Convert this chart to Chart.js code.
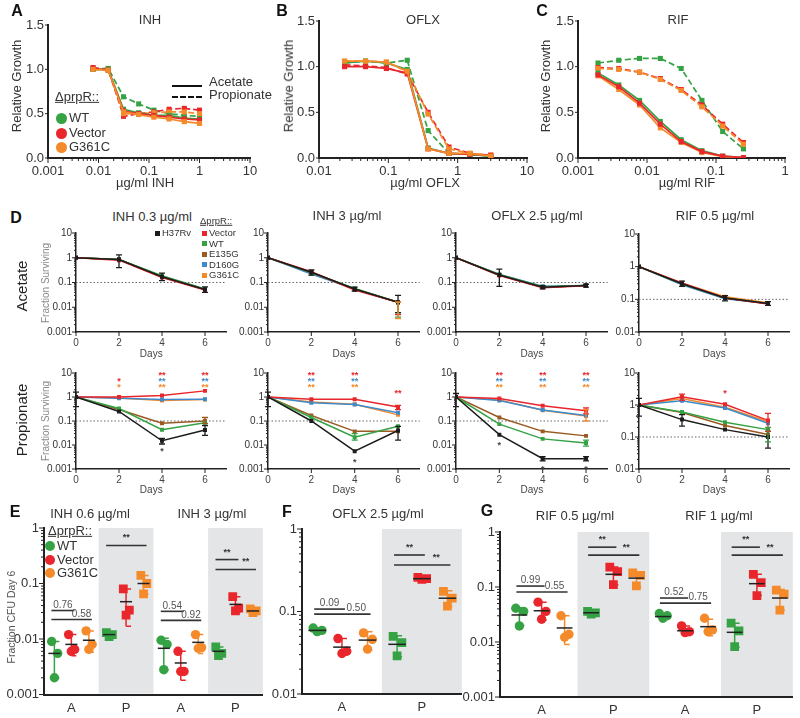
<!DOCTYPE html>
<html><head><meta charset="utf-8">
<script src="https://cdn.jsdelivr.net/npm/chart.js@4.4.1/dist/chart.umd.min.js"></script>
<style>
html,body{margin:0;padding:0;background:#fff}
body{width:800px;height:718px;position:relative;overflow:hidden;font-family:"Liberation Sans",Arial,sans-serif;color:#333}
canvas{position:absolute}
.t{position:absolute;white-space:nowrap;line-height:1.1}
.sw{position:absolute}
</style></head><body>
<script>
// ================= DATA =================
// Panels A-C : relative growth vs dose (Acetate = solid, Propionate = dashed)
const inhDoses  = [0.0078, 0.0156, 0.0313, 0.0625, 0.125, 0.25, 0.5, 1];
const oflxDoses = [0.0234, 0.0469, 0.0938, 0.1875, 0.375, 0.75, 1.5, 3];
const rifDoses  = [0.00195, 0.0039, 0.0078, 0.0156, 0.0313, 0.0625, 0.125, 0.25];

const inhAceWT     = [1.00, 1.00, 0.55, 0.51, 0.48, 0.48, 0.45, 0.44];
const inhAceVector = [1.01, 0.99, 0.53, 0.50, 0.48, 0.46, 0.44, 0.43];
const inhAceG361C  = [1.00, 0.99, 0.52, 0.49, 0.46, 0.44, 0.41, 0.39];
const inhProWT     = [1.00, 1.01, 0.69, 0.61, 0.54, 0.50, 0.48, 0.47];
const inhProVector = [1.02, 1.00, 0.47, 0.50, 0.52, 0.55, 0.56, 0.54];
const inhProG361C  = [1.00, 0.99, 0.50, 0.50, 0.51, 0.52, 0.52, 0.50];

const oflxAceWT     = [1.04, 1.06, 1.04, 0.97, 0.11, 0.05, 0.04, 0.02];
const oflxAceVector = [1.00, 1.00, 0.98, 0.93, 0.10, 0.05, 0.04, 0.03];
const oflxAceG361C  = [1.06, 1.06, 1.05, 0.95, 0.10, 0.05, 0.05, 0.02];
const oflxProWT     = [1.04, 1.06, 1.04, 1.07, 0.30, 0.05, 0.04, 0.02];
const oflxProVector = [1.02, 1.01, 0.99, 0.92, 0.50, 0.12, 0.05, 0.03];
const oflxProG361C  = [1.06, 1.06, 1.05, 0.95, 0.48, 0.10, 0.05, 0.03];

const rifAceWT     = [0.93, 0.80, 0.63, 0.40, 0.20, 0.08, 0.02, 0.005];
const rifAceVector = [0.91, 0.78, 0.60, 0.37, 0.18, 0.07, 0.02, 0.004];
const rifAceG361C  = [0.90, 0.75, 0.58, 0.33, 0.17, 0.06, 0.015, 0.003];
const rifProWT     = [1.04, 1.07, 1.09, 1.09, 0.98, 0.63, 0.29, 0.10];
const rifProVector = [0.99, 0.98, 0.94, 0.87, 0.75, 0.58, 0.37, 0.17];
const rifProG361C  = [0.98, 0.97, 0.94, 0.86, 0.74, 0.56, 0.35, 0.15];

// Panel D : fraction surviving over days; rows = strains in dStrains order
const days = [0, 2, 4, 6];
const dStrains = ['H37Rv', 'Vector', 'WT', 'E135G', 'D160G', 'G361C'];

const inh03Acetate = [[1,0.85,0.17,0.052],[1,0.80,0.16,0.050],[1,0.86,0.19,0.055],[1,0.85,0.17,0.052],[1,0.85,0.17,0.052],[1,0.85,0.17,0.052]];
const inh3Acetate  = [[1,0.26,0.055,0.016],[1,0.27,0.050,0.016],[1,0.25,0.057,0.016],[1,0.25,0.055,0.016],[1,0.22,0.055,0.016],[1,0.26,0.055,0.016]];
const oflxAcetate  = [[1,0.20,0.065,0.075],[1,0.19,0.062,0.074],[1,0.21,0.068,0.075],[1,0.20,0.065,0.075],[1,0.21,0.070,0.076],[1,0.20,0.065,0.075]];
const rifAcetate   = [[1,0.30,0.11,0.075],[1,0.32,0.11,0.072],[1,0.30,0.11,0.075],[1,0.30,0.11,0.075],[1,0.28,0.105,0.075],[1,0.31,0.12,0.078]];

const inh03Propionate = [[1,0.25,0.015,0.042],[1,1.0,1.15,1.8],[1,0.33,0.043,0.085],[1,0.30,0.080,0.10],[1,0.88,0.78,0.80],[1,0.90,0.72,0.78]];
const inh3Propionate  = [[1,0.10,0.0055,0.040],[1,0.80,0.80,0.38],[1,0.14,0.021,0.060],[1,0.17,0.037,0.037],[1,0.57,0.49,0.22],[1,0.62,0.50,0.18]];
const oflxPropionate  = [[1,0.027,0.0027,0.0027],[1,0.87,0.43,0.27],[1,0.074,0.018,0.012],[1,0.14,0.037,0.024],[1,0.72,0.29,0.17],[1,0.75,0.28,0.16]];
const rifPropionate   = [[1,0.35,0.17,0.10],[1,1.8,1.05,0.33],[1,0.60,0.29,0.17],[1,0.58,0.23,0.12],[1,1.35,0.80,0.27],[1,1.6,0.85,0.30]];

// error bars: [strain index, day, low, high]
const inh03AcetateErr = [[0,2,0.4,1.3],[0,4,0.12,0.24],[0,6,0.04,0.066]];
const inh3AcetateErr  = [[0,2,0.2,0.32],[0,4,0.045,0.065],[0,6,0.006,0.03],[1,6,0.005,0.016],[2,6,0.004,0.016],[5,6,0.0035,0.016]];
const oflxAcetateErr  = [[0,2,0.07,0.35],[0,4,0.055,0.075],[0,6,0.065,0.085]];
const rifAcetateErr   = [[0,2,0.25,0.36],[0,4,0.09,0.13],[0,6,0.065,0.085]];
const inh03PropionateErr = [[0,0,0.4,1.6],[0,4,0.011,0.019],[0,6,0.025,0.065],[3,6,0.08,0.14]];
const inh3PropionateErr  = [[0,0,0.4,1.6],[0,6,0.016,0.06],[2,4,0.016,0.03],[1,6,0.3,0.45]];
const oflxPropionateErr  = [[0,0,0.4,1.4],[0,4,0.0022,0.0033],[0,6,0.0022,0.0033],[1,6,0.2,0.35],[5,6,0.1,0.3],[2,6,0.009,0.016]];
const rifPropionateErr   = [[0,0,0.45,1.6],[0,2,0.22,0.5],[0,6,0.045,0.15],[1,6,0.15,0.55],[1,2,1.4,2.2],[2,6,0.07,0.2]];

// significance stars: [day, row, strain index, text]; H37Rv stars shown below point (days)
const inh03Stars = [[2,1,1,'*'],[2,2,5,'*'],[4,0,1,'**'],[4,1,4,'**'],[4,2,5,'**'],[6,0,1,'**'],[6,1,4,'**'],[6,2,5,'**']];
const inh3Stars  = [[2,0,1,'**'],[2,1,4,'**'],[2,2,5,'**'],[4,0,1,'**'],[4,1,4,'**'],[4,2,5,'**'],[6,3,1,'**']];
const oflxStars  = [[2,0,1,'**'],[2,1,4,'**'],[2,2,5,'**'],[4,0,1,'**'],[4,1,4,'**'],[4,2,5,'**'],[6,0,1,'**'],[6,1,4,'**'],[6,2,5,'**']];
const rifStars   = [[4,3,1,'*']];
const inh03BlackStar = [4];
const inh3BlackStar  = [4];
const oflxBlackStar  = [2, 4, 6];
const rifBlackStar   = [];

// Panels E-G : fraction CFU day 6 (per strain: WT, Vector, G361C; per group)
const eGroups = ['A', 'P', 'A', 'P'];
const eWT     = [[0.009,0.0055,0.002],[0.013,0.012,0.011],[0.0095,0.008,0.0028],[0.0072,0.0055,0.005]];
const eVector = [[0.012,0.0065,0.006],[0.08,0.033,0.027],[0.006,0.0026,0.0026],[0.058,0.036,0.032]];
const eG361C  = [[0.014,0.008,0.0065],[0.14,0.10,0.065],[0.012,0.007,0.0068],[0.035,0.032,0.030]];
const eMeans  = [[0.0055,0.012,0.0068,0.006],[0.008,0.047,0.0037,0.042],[0.0095,0.10,0.0087,0.032]];
const eSD     = [[[0.002,0.009],[0.011,0.013],[0.0028,0.0103],[0.005,0.0072]],
                 [[0.005,0.012],[0.017,0.08],[0.0018,0.006],[0.03,0.058]],
                 [[0.0058,0.014],[0.065,0.14],[0.0055,0.012],[0.029,0.035]]];
const eBrackets = [[0,0,1,0.0326,'0.76',0],[0,0,2,0.0225,'0.58',1],[1,0,2,0.484,'**',0],
                   [2,0,1,0.0315,'0.54',0],[2,0,2,0.0217,'0.92',1],[3,0,1,0.27,'**',0],[3,0,2,0.179,'**',1]];

const fGroups = ['A', 'P'];
const fWT     = [[0.063,0.059,0.057],[0.050,0.042,0.029]];
const fVector = [[0.047,0.033,0.031],[0.26,0.25,0.245]];
const fG361C  = [[0.055,0.046,0.035],[0.175,0.145,0.116]];
const fMeans  = [[0.059,0.040],[0.037,0.25],[0.045,0.145]];
const fSD     = [[[0.057,0.062],[0.028,0.051]],[[0.030,0.047],[0.243,0.258]],[[0.034,0.057],[0.115,0.178]]];
const fBrackets = [[0,0,1,0.107,'0.09',0],[0,0,2,0.093,'0.50',1],[1,0,1,0.484,'**',0],[1,0,2,0.366,'**',1]];

const gGroups = ['A', 'P', 'A', 'P'];
const gWT     = [[0.041,0.036,0.0196],[0.036,0.034,0.032],[0.033,0.030,0.027],[0.022,0.016,0.0082]];
const gVector = [[0.053,0.036,0.026],[0.23,0.19,0.11],[0.0196,0.0154,0.0148],[0.17,0.12,0.07]];
const gG361C  = [[0.030,0.0138,0.0122],[0.18,0.163,0.105],[0.027,0.0166,0.0154],[0.088,0.074,0.038]];
const gMeans  = [[0.031,0.034,0.029,0.015],[0.037,0.17,0.016,0.115],[0.018,0.145,0.019,0.063]];
const gSD     = [[[0.020,0.042],[0.032,0.036],[0.026,0.032],[0.008,0.022]],
                 [[0.025,0.053],[0.11,0.23],[0.0145,0.0195],[0.07,0.17]],
                 [[0.009,0.030],[0.10,0.18],[0.013,0.026],[0.038,0.09]]];
const gBrackets = [[0,0,1,0.104,'0.99',0],[0,0,2,0.081,'0.55',1],[1,0,1,0.53,'**',0],[1,0,2,0.38,'**',1],
                   [2,0,1,0.063,'0.52',0],[2,0,2,0.051,'0.75',1],[3,0,1,0.53,'**',0],[3,0,2,0.38,'**',1]];

// ================= STYLE =================
const GREEN='#35a244', RED='#e8262b', ORANGE='#f58a2b', BLUE='#3e8bcb', BROWN='#9a5a22', BLACK='#1c1c1c';
const dColors = [BLACK, RED, GREEN, BROWN, BLUE, ORANGE];
const strainColors = [GREEN, RED, ORANGE];
const FONT = '"Liberation Sans", Arial, sans-serif';
Chart.defaults.font.family = FONT;
Chart.defaults.color = '#333';

function isPow10(v){ const l = Math.log10(v); return Math.abs(l - Math.round(l)) < 1e-6; }
function fmtPow(v){ const e = Math.round(Math.log10(v)); return e >= 0 ? String(Math.pow(10, e)) : Math.pow(10, e).toFixed(-e); }
function logTickValues(min, max){
  const out = [];
  for (let e = Math.round(Math.log10(min)); e < Math.round(Math.log10(max)); e++)
    for (let k = 1; k < 10; k++) out.push(+(k * Math.pow(10, e)).toPrecision(6));
  out.push(max); return out;
}
const hidGrid = len => ({display:true, drawOnChartArea:false, drawTicks:true, tickLength:len, color:'rgba(0,0,0,0)'});
function logAxis(min, max, size, tl, pad, bw){
  return { type:'logarithmic', min, max, grid:hidGrid(tl), border:{display:true, color:'#222', width:bw},
    afterBuildTicks: s => { s.ticks = logTickValues(min, max).map(v => ({value:v, major:isPow10(v)})); },
    ticks:{ autoSkip:false, maxRotation:0, padding:pad, font:{size}, color:'#333', callback: v => isPow10(v) ? fmtPow(v) : '' } };
}
function tickPlugin(spec){
  return { id:'tk', afterDraw(chart){
    const ctx = chart.ctx;
    for (const ax of ['x','y']) {
      const sp = spec[ax]; if (!sp) continue;
      const s = chart.scales[ax];
      ctx.save(); ctx.strokeStyle = '#222'; ctx.lineWidth = sp.w || 1;
      for (const t of s.ticks) {
        const major = s.type === 'logarithmic' ? isPow10(t.value) : true;
        const len = major ? sp.major : sp.minor; if (!len) continue;
        const p = s.getPixelForValue(t.value);
        ctx.beginPath();
        if (ax === 'x') { ctx.moveTo(p, s.top); ctx.lineTo(p, s.top + len); }
        else { ctx.moveTo(s.right, p); ctx.lineTo(s.right - len, p); }
        ctx.stroke();
      }
      ctx.restore();
    }
  }};
}
function makeChart(plot, m, config){
  const cv = document.createElement('canvas');
  const W = Math.round(plot.r - plot.l + m.l + m.r), H = Math.round(plot.b - plot.t + m.t + m.b);
  cv.width = W; cv.height = H;
  Object.assign(cv.style, {left:(plot.l - m.l) + 'px', top:(plot.t - m.t) + 'px', width:W + 'px', height:H + 'px'});
  document.body.appendChild(cv);
  const o = config.options;
  o.responsive = false; o.animation = false; o.events = [];
  o.layout = {padding:{left:0, top:m.t, right:W - m.l - (plot.r - plot.l), bottom:0}};
  o.plugins = Object.assign({legend:{display:false}, tooltip:{enabled:false}}, o.plugins || {});
  const z = s => { s.paddingLeft = 0; s.paddingRight = 0; s.paddingTop = 0; s.paddingBottom = 0; };
  o.scales.x.afterFit = s => { s.height = H - m.t - (plot.b - plot.t); z(s); };
  o.scales.y.afterFit = s => { s.width = m.l; z(s); };
  return new Chart(cv.getContext('2d'), config);
}
function T(s, x, y, o = {}){
  const d = document.createElement('div'); d.className = 't'; d.textContent = s;
  d.style.left = x + 'px'; d.style.top = y + 'px'; d.style.fontSize = (o.size || 13) + 'px';
  if (o.bold) d.style.fontWeight = 'bold';
  if (o.color) d.style.color = o.color;
  if (o.ul) d.style.textDecoration = 'underline';
  const tx = o.align === 'left' ? '0' : o.align === 'right' ? '-100%' : '-50%';
  d.style.transform = `translate(${tx},-50%)` + (o.rot ? ' rotate(-90deg)' : '');
  document.body.appendChild(d);
}
function SW(x, y, size, color, round){
  const d = document.createElement('div'); d.className = 'sw';
  Object.assign(d.style, {left:(x - size/2) + 'px', top:(y - size/2) + 'px', width:size + 'px', height:size + 'px', background:color, borderRadius: round ? '50%' : '0'});
  document.body.appendChild(d);
}
function LN(x1, x2, y, dashed){
  const d = document.createElement('div'); d.className = 'sw';
  Object.assign(d.style, {left:x1 + 'px', top:(y - 1) + 'px', width:(x2 - x1) + 'px', height:'0', borderTop:'2px ' + (dashed ? 'dashed' : 'solid') + ' #111'});
  document.body.appendChild(d);
}

// ================= PANELS A-C =================
function doseChart(plot, xmin, xmax, doses, sets){
  const datasets = sets.map(([vals, color, dashed]) => ({
    data: doses.map((d, i) => ({x:d, y:vals[i]})),
    borderColor:color, backgroundColor:color, borderWidth:1.7, borderDash: dashed ? [6,3] : [],
    pointStyle:'rect', pointRadius:3.6, pointBorderWidth:0, fill:false
  }));
  return makeChart(plot, {l:46, t:10, r:18, b:20}, {
    type:'line', data:{datasets},
    options:{ scales:{
      x: logAxis(xmin, xmax, 13, 5, 1, 2),
      y: { type:'linear', min:0, max:1.5, grid:hidGrid(3), border:{display:true, color:'#222', width:2},
           afterBuildTicks: s => { s.ticks = [0, 0.5, 1, 1.5].map(v => ({value:v})); },
           ticks:{ padding:1, font:{size:13}, color:'#333', callback: v => v.toFixed(1) } }
    }},
    plugins:[tickPlugin({x:{major:5, minor:3}, y:{major:3}})]
  });
}
doseChart({l:48, r:250, t:25, b:158}, 0.001, 10, inhDoses, [
  [inhAceG361C, ORANGE, false], [inhAceVector, RED, false], [inhAceWT, GREEN, false],
  [inhProG361C, ORANGE, true], [inhProVector, RED, true], [inhProWT, GREEN, true]]);
doseChart({l:319, r:527, t:21, b:158}, 0.01, 10, oflxDoses, [
  [oflxAceG361C, ORANGE, false], [oflxAceVector, RED, false], [oflxAceWT, GREEN, false],
  [oflxProG361C, ORANGE, true], [oflxProVector, RED, true], [oflxProWT, GREEN, true]]);
doseChart({l:578, r:785, t:21, b:158}, 0.001, 1, rifDoses, [
  [rifAceVector, RED, false], [rifAceG361C, ORANGE, false], [rifAceWT, GREEN, false],
  [rifProG361C, ORANGE, true], [rifProVector, RED, true], [rifProWT, GREEN, true]]);

// ================= PANEL D =================
function dChart(plot, ymin, vals, errs, stars, blackStars){
  const datasets = vals.map((arr, i) => ({
    data: days.map((d, j) => ({x:d, y:arr[j]})),
    borderColor:dColors[i], backgroundColor:dColors[i], borderWidth:1.5,
    pointStyle:'rect', pointRadius:2.8, pointBorderWidth:0, fill:false
  }));
  const deco = { id:'deco',
    beforeDatasetsDraw(chart){
      const {ctx, chartArea:a} = chart; const y = chart.scales.y.getPixelForValue(0.1);
      ctx.save(); ctx.strokeStyle = '#666'; ctx.lineWidth = 1; ctx.setLineDash([1.5, 2]);
      ctx.beginPath(); ctx.moveTo(a.left, y); ctx.lineTo(a.right, y); ctx.stroke(); ctx.restore();
    },
    afterDatasetsDraw(chart){
      const {ctx, chartArea:a} = chart; const xs = chart.scales.x, ys = chart.scales.y;
      ctx.save(); ctx.lineWidth = 1.3;
      for (const [si, day, lo, hi] of errs) {
        const x = xs.getPixelForValue(day), y1 = ys.getPixelForValue(lo), y2 = ys.getPixelForValue(hi);
        ctx.strokeStyle = dColors[si]; ctx.beginPath();
        ctx.moveTo(x, y1); ctx.lineTo(x, y2); ctx.moveTo(x - 3, y1); ctx.lineTo(x + 3, y1); ctx.moveTo(x - 3, y2); ctx.lineTo(x + 3, y2);
        ctx.stroke();
      }
      ctx.font = 'bold 9px ' + FONT; ctx.textAlign = 'center'; ctx.textBaseline = 'middle';
      for (const [day, row, si, t] of stars) {
        ctx.fillStyle = dColors[si];
        ctx.fillText(t, xs.getPixelForValue(day), a.top + 3 + row * 6);
      }
      ctx.fillStyle = '#444';
      for (const day of blackStars) {
        const v = vals[0][days.indexOf(day)];
        ctx.fillText('*', xs.getPixelForValue(day), ys.getPixelForValue(v) + 11);
      }
      ctx.restore();
    }
  };
  return makeChart(plot, {l:40, t:8, r:8, b:17}, {
    type:'line', data:{datasets},
    options:{ scales:{
      x: { type:'linear', min:0, max:7, grid:hidGrid(4), border:{display:true, color:'#222', width:1.5},
           afterBuildTicks: s => { s.ticks = days.map(v => ({value:v})); },
           ticks:{ padding:1, font:{size:10}, color:'#444', callback: v => String(v) } },
      y: logAxis(ymin, 10, 10, 3, 1, 1.5)
    }},
    plugins:[deco, tickPlugin({x:{major:4}, y:{major:4, minor:2}})]
  });
}
const dCols = [[76, 226.5], [268, 419.7], [456, 607.7], [639, 789.5]];
dChart({l:dCols[0][0], r:dCols[0][1], t:233, b:332}, 0.001, inh03Acetate, inh03AcetateErr, [], []);
dChart({l:dCols[1][0], r:dCols[1][1], t:233, b:332}, 0.001, inh3Acetate, inh3AcetateErr, [], []);
dChart({l:dCols[2][0], r:dCols[2][1], t:233, b:332}, 0.001, oflxAcetate, oflxAcetateErr, [], []);
dChart({l:dCols[3][0], r:dCols[3][1], t:234, b:332}, 0.01, rifAcetate, rifAcetateErr, [], []);
dChart({l:dCols[0][0], r:dCols[0][1], t:372.5, b:468.5}, 0.001, inh03Propionate, inh03PropionateErr, inh03Stars, inh03BlackStar);
dChart({l:dCols[1][0], r:dCols[1][1], t:372.5, b:468.5}, 0.001, inh3Propionate, inh3PropionateErr, inh3Stars, inh3BlackStar);
dChart({l:dCols[2][0], r:dCols[2][1], t:372.5, b:468.5}, 0.001, oflxPropionate, oflxPropionateErr, oflxStars, oflxBlackStar);
dChart({l:dCols[3][0], r:dCols[3][1], t:373, b:469}, 0.01, rifPropionate, rifPropionateErr, rifStars, rifBlackStar);

// ================= PANELS E-G =================
const strainOffs = [-0.31, 0, 0.32];
const jitter = [-0.05, 0.06, 0];
function dotChart(plot, m, xmin, xmax, ymin, groups, pts, means, sds, brackets){
  const datasets = pts.map((sp, si) => ({
    type:'scatter',
    data: sp.flatMap((grp, g) => grp.map((v, k) => ({x: g + 0.5 + strainOffs[si] + jitter[k], y: v, p: groups[g] === 'P'}))),
    backgroundColor: strainColors[si], borderWidth:0,
    pointStyle: c => (c.raw && c.raw.p) ? 'rect' : 'circle',
    pointRadius: c => (c.raw && c.raw.p) ? 6.2 : 4.7
  }));
  const px = (xs, g, si) => xs.getPixelForValue(g + 0.5 + strainOffs[si]);
  const deco = { id:'deco',
    beforeDatasetsDraw(chart){
      const {ctx, chartArea:a} = chart; const xs = chart.scales.x;
      ctx.save(); ctx.fillStyle = '#e4e5e7';
      groups.forEach((l, g) => { if (l === 'P') { const x1 = xs.getPixelForValue(g), x2 = xs.getPixelForValue(g + 1); ctx.fillRect(x1, a.top, x2 - x1, a.bottom - a.top - 1); } });
      ctx.restore();
    },
    afterDatasetsDraw(chart){
      const {ctx} = chart; const xs = chart.scales.x, ys = chart.scales.y;
      const gw = xs.getPixelForValue(1) - xs.getPixelForValue(0);
      ctx.save(); ctx.lineWidth = 1.5;
      means.forEach((row, si) => row.forEach((mv, g) => {
        const x = px(xs, g, si), ylo = ys.getPixelForValue(sds[si][g][0]), yhi = ys.getPixelForValue(sds[si][g][1]), ym = ys.getPixelForValue(mv);
        ctx.strokeStyle = strainColors[si]; ctx.beginPath();
        ctx.moveTo(x, ylo); ctx.lineTo(x, yhi); ctx.moveTo(x, ylo); ctx.lineTo(x + 5, ylo); ctx.moveTo(x, yhi); ctx.lineTo(x + 5, yhi); ctx.stroke();
        ctx.strokeStyle = '#222'; ctx.beginPath(); const hw = gw * 0.11;
        ctx.moveTo(x - hw, ym); ctx.lineTo(x + hw, ym); ctx.stroke();
      }));
      for (const [g, a, b, yv, t, ts] of brackets) {
        const x1 = px(xs, g, a) - 3, x2 = px(xs, g, b) + 3, y = ys.getPixelForValue(yv);
        ctx.strokeStyle = '#333'; ctx.lineWidth = 1.6; ctx.beginPath(); ctx.moveTo(x1, y); ctx.lineTo(x2, y); ctx.stroke();
        const tx = ((ts === a ? x1 : px(xs, g, ts)) + x2) / 2;
        ctx.fillStyle = t === '**' ? '#333' : '#555';
        ctx.font = (t === '**' ? 'bold 9px ' : '10px ') + FONT; ctx.textAlign = 'center'; ctx.textBaseline = 'bottom';
        ctx.fillText(t, tx, y - (t === '**' ? 3 : 0.5));
      }
      ctx.restore();
    }
  };
  return makeChart(plot, m, {
    type:'scatter', data:{datasets},
    options:{ scales:{
      x: { type:'linear', min:xmin, max:xmax, grid:hidGrid(3), border:{display:true, color:'#222', width:2},
           afterBuildTicks: s => { s.ticks = groups.map((l, g) => ({value: g + 0.5})); },
           ticks:{ padding:3, font:{size:13}, color:'#333', callback: (v, i) => groups[i] } },
      y: logAxis(ymin, 1, 13, 4, 1, 2)
    }},
    plugins:[deco, tickPlugin({y:{major:5, minor:3}})]
  });
}
dotChart({l:44, r:263, t:527.5, b:694}, {l:44, t:12, r:6, b:22}, 0, 4, 0.001, eGroups, [eWT, eVector, eG361C], eMeans, eSD, eBrackets);
dotChart({l:302, r:462, t:529, b:694}, {l:40, t:12, r:6, b:22}, 0, 2, 0.01, fGroups, [fWT, fVector, fG361C], fMeans, fSD, fBrackets);
dotChart({l:500, r:795, t:532, b:697}, {l:44, t:12, r:4, b:19}, -0.08, 4, 0.001, gGroups, [gWT, gVector, gG361C], gMeans, gSD, gBrackets);

// ================= TEXT =================
// letters
T('A', 17, 11, {size:16, bold:true, color:'#111'});
T('B', 282, 11, {size:16, bold:true, color:'#111'});
T('C', 542, 11, {size:16, bold:true, color:'#111'});
T('D', 16, 218, {size:16, bold:true, color:'#111'});
T('E', 15, 512, {size:16, bold:true, color:'#111'});
T('F', 287, 512, {size:16, bold:true, color:'#111'});
T('G', 487, 511, {size:16, bold:true, color:'#111'});
// A-C titles / axis labels
T('INH', 150, 20, {size:13}); T('OFLX', 423, 20, {size:13}); T('RIF', 678, 20, {size:13});
T('Relative Growth', 17, 86, {size:13, rot:true});
T('Relative Growth', 289, 86, {size:13, rot:true});
T('Relative Growth', 546, 86, {size:13, rot:true});
T('µg/ml INH', 145, 183, {size:13}); T('µg/ml OFLX', 425, 183, {size:13}); T('µg/ml RIF', 687, 183, {size:13});
// A legend
LN(172, 202, 86, false); LN(172, 202, 97, true);
T('Acetate', 209, 82, {size:13, align:'left'}); T('Propionate', 209, 95, {size:13, align:'left'});
T('ΔprpR::', 55, 97, {size:13, align:'left', ul:true});
SW(61, 118, 11, GREEN, true); SW(61, 133, 11, RED, true); SW(61, 147, 11, ORANGE, true);
T('WT', 69, 118, {size:13, align:'left'}); T('Vector', 69, 133, {size:13, align:'left'}); T('G361C', 69, 147, {size:13, align:'left'});
// D titles & labels
T('INH 0.3 µg/ml', 152, 217, {size:13}); T('INH 3 µg/ml', 347, 216, {size:13});
T('OFLX 2.5 µg/ml', 537, 216, {size:13}); T('RIF 0.5 µg/ml', 715, 216, {size:13});
T('Acetate', 22, 286, {size:15, rot:true, color:'#222'});
T('Propionate', 22, 420, {size:15, rot:true, color:'#222'});
T('Fraction Surviving', 45, 283, {size:10, rot:true, color:'#888'});
T('Fraction Surviving', 45, 421, {size:10, rot:true, color:'#888'});
dCols.forEach(([l, r]) => { T('Days', (l + r) / 2, 353, {size:10, color:'#444'}); T('Days', (l + r) / 2, 489, {size:10, color:'#444'}); });
// D legend
SW(157, 233, 5, BLACK, false); T('H37Rv', 162, 233, {size:9.5, align:'left', color:'#333'});
T('ΔprpR::', 200, 221, {size:9.5, align:'left', ul:true, color:'#333'});
[['Vector', RED], ['WT', GREEN], ['E135G', BROWN], ['D160G', BLUE], ['G361C', ORANGE]].forEach(([n, c], i) => {
  SW(204, 233 + i * 10.5, 5, c, false); T(n, 209, 233 + i * 10.5, {size:9.5, align:'left', color:'#333'});
});
// E-G titles & labels
T('INH 0.6 µg/ml', 90, 514, {size:13}); T('INH 3 µg/ml', 212, 514, {size:13});
T('OFLX 2.5 µg/ml', 378, 514, {size:13});
T('RIF 0.5 µg/ml', 575, 516, {size:13}); T('RIF 1 µg/ml', 719, 516, {size:13});
T('Fraction CFU Day 6', 12, 617, {size:10.5, rot:true, color:'#555'});
T('ΔprpR::', 48, 531, {size:13, align:'left', ul:true});
SW(50, 546, 10, GREEN, true); SW(50, 560, 10, RED, true); SW(50, 573, 10, ORANGE, true);
T('WT', 57, 546, {size:13, align:'left'}); T('Vector', 57, 560, {size:13, align:'left'}); T('G361C', 57, 573, {size:13, align:'left'});
</script></body></html>
